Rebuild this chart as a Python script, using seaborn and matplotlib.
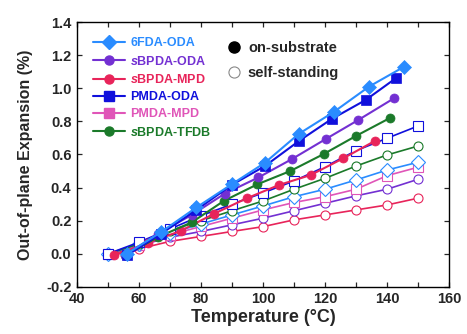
import numpy as np
import pandas as pd
import matplotlib
matplotlib.use("Agg")
import matplotlib.pyplot as plt
from matplotlib.lines import Line2D
from matplotlib.ticker import MultipleLocator, FuncFormatter
import seaborn as sns

# ---------------- data ----------------
names = ["6FDA-ODA", "sBPDA-ODA", "sBPDA-MPD", "PMDA-ODA", "PMDA-MPD", "sBPDA-TFDB"]
labels = [r"6FDA-ODA", r"$\mathbfit{s}$BPDA-ODA", r"$\mathbfit{s}$BPDA-MPD",
          r"PMDA-ODA", r"PMDA-MPD", r"$\mathbfit{s}$BPDA-TFDB"]
colors = ["#2a8cff", "#7330d2", "#e8245a", "#1010dc", "#e055b8", "#1b7a2a"]
markers = ["D", "o", "o", "s", "s", "o"]

# on-substrate (filled)
T_on = {
    "6FDA-ODA":   [56, 67, 78.5, 89.9, 100.6, 111.5, 122.9, 134.2, 145.5],
    "sBPDA-ODA":  [55.5, 66, 77, 87.7, 98.5, 109.3, 120.3, 130.7, 142.3],
    "sBPDA-MPD":  [52, 63, 73.4, 84.3, 94.7, 105.2, 115.4, 125.9, 136.2],
    "PMDA-ODA":   [56, 67, 78.5, 89.9, 100.6, 111.7, 122.2, 133.1, 142.8],
    "sBPDA-TFDB": [55.5, 66, 77, 87.4, 98.2, 108.8, 119.6, 130, 140.8],
}
v_on = {
    "6FDA-ODA":   [0.0, 0.13, 0.28, 0.42, 0.55, 0.724, 0.858, 1.01, 1.13],
    "sBPDA-ODA":  [-0.01, 0.12, 0.235, 0.364, 0.461, 0.572, 0.694, 0.808, 0.94],
    "sBPDA-MPD":  [-0.01, 0.067, 0.138, 0.243, 0.335, 0.416, 0.476, 0.577, 0.683],
    "PMDA-ODA":   [-0.01, 0.12, 0.265, 0.416, 0.53, 0.683, 0.815, 0.929, 1.06],
    "sBPDA-TFDB": [-0.01, 0.10, 0.19, 0.32, 0.42, 0.50, 0.603, 0.712, 0.819],
}

# self-standing (open)
T_self = [50, 60, 70, 80, 90, 100, 110, 120, 130, 140, 150]
v_self = {
    "PMDA-ODA":   [0.0, 0.07, 0.15, 0.23, 0.30, 0.368, 0.44, 0.526, 0.623, 0.698, 0.772],
    "sBPDA-TFDB": [0.0, 0.06, 0.14, 0.20, 0.26, 0.319, 0.39, 0.456, 0.53, 0.597, 0.651],
    "6FDA-ODA":   [0.0, 0.06, 0.125, 0.18, 0.235, 0.289, 0.345, 0.39, 0.446, 0.506, 0.553],
    "PMDA-MPD":   [0.0, 0.055, 0.115, 0.165, 0.215, 0.265, 0.31, 0.345, 0.39, 0.472, 0.523],
    "sBPDA-ODA":  [0.0, 0.05, 0.10, 0.135, 0.175, 0.215, 0.26, 0.305, 0.35, 0.39, 0.45],
    "sBPDA-MPD":  [0.0, 0.03, 0.075, 0.105, 0.135, 0.164, 0.205, 0.235, 0.265, 0.295, 0.336],
}

# ---------------- plot ----------------
sns.set_style("ticks")
plt.rcParams["font.family"] = ["Liberation Sans", "DejaVu Sans"]
plt.rcParams["font.weight"] = "bold"
plt.rcParams["mathtext.fontset"] = "custom"
plt.rcParams["mathtext.rm"] = "Liberation Sans:bold"
plt.rcParams["mathtext.it"] = "Liberation Sans:italic:bold"
plt.rcParams["mathtext.bf"] = "Liberation Sans:bold"
plt.rcParams["mathtext.bfit"] = "Liberation Sans:italic:bold"

fig = plt.figure(figsize=(4.67, 3.34), dpi=100)
ax = fig.add_axes([0.165, 0.141, 0.7965, 0.793])

cmap = dict(zip(names, colors))
mmap = dict(zip(names, markers))

# open (self-standing) first so filled ones are on top
for n in ["sBPDA-MPD", "sBPDA-ODA", "PMDA-MPD", "6FDA-ODA", "sBPDA-TFDB", "PMDA-ODA"]:
    df = pd.DataFrame({"T": T_self, "v": v_self[n]})
    ms = 7.5 if mmap[n] == "D" else 6.5
    sns.lineplot(data=df, x="T", y="v", ax=ax, color=cmap[n], lw=1.2,
                 marker=mmap[n], markersize=ms, markerfacecolor="white",
                 markeredgecolor=cmap[n], markeredgewidth=0.8, alpha=1.0,
                 estimator=None, sort=False, legend=False)

for n in ["sBPDA-MPD", "sBPDA-TFDB", "sBPDA-ODA", "PMDA-ODA", "6FDA-ODA"]:
    df = pd.DataFrame({"T": T_on[n], "v": v_on[n]})
    ms = 7 if mmap[n] == "D" else 6.5
    sns.lineplot(data=df, x="T", y="v", ax=ax, color=cmap[n], lw=1.5,
                 marker=mmap[n], markersize=ms, markerfacecolor=cmap[n],
                 markeredgecolor=cmap[n], markeredgewidth=0.5,
                 estimator=None, sort=False, legend=False)

ax.set_xlim(40, 160)
ax.set_ylim(-0.2, 1.4)
ax.xaxis.set_major_locator(MultipleLocator(20))
ax.xaxis.set_minor_locator(MultipleLocator(10))
ax.yaxis.set_major_locator(MultipleLocator(0.2))
ax.yaxis.set_major_formatter(FuncFormatter(lambda v, p: f"{v:.1f}"))
ax.tick_params(which="both", direction="in", top=True, right=True,
               length=3.5, width=0.9, labelsize=10.5, pad=4)
for s in ax.spines.values():
    s.set_linewidth(1.0)
    s.set_color("black")
ax.set_xlabel("Temperature (°C)", fontsize=13, fontweight="bold", labelpad=2)
ax.set_ylabel("Out-of-plane Expansion (%)", fontsize=11.5, fontweight="bold", labelpad=9)

# series legend
handles = [Line2D([0], [0], color=c, lw=1.5, marker=m,
                  markersize=(7 if m == "D" else 6.5), markerfacecolor=c, markeredgecolor=c)
           for c, m in zip(colors, markers)]
leg1 = ax.legend(handles, labels, loc="upper left", bbox_to_anchor=(0.019, 0.975),
                 frameon=False, handlelength=2.6, handletextpad=0.4,
                 labelspacing=0.42, borderpad=0.2, prop={"weight": "bold", "size": 9})
for t, c in zip(leg1.get_texts(), colors):
    t.set_color(c)
ax.add_artist(leg1)

h2 = [Line2D([0], [0], ls="none", marker="o", markersize=8, markerfacecolor="black",
             markeredgecolor="black"),
      Line2D([0], [0], ls="none", marker="o", markersize=8, markerfacecolor="white",
             markeredgecolor="#888888", markeredgewidth=0.8)]
leg2 = ax.legend(h2, ["on-substrate", "self-standing"], loc="upper left",
                 bbox_to_anchor=(0.375, 0.967), frameon=False, handlelength=1.0,
                 handletextpad=0.45, labelspacing=0.75, borderpad=0.2,
                 prop={"weight": "bold", "size": 10.5})

fig.savefig("out.png", dpi=100)
